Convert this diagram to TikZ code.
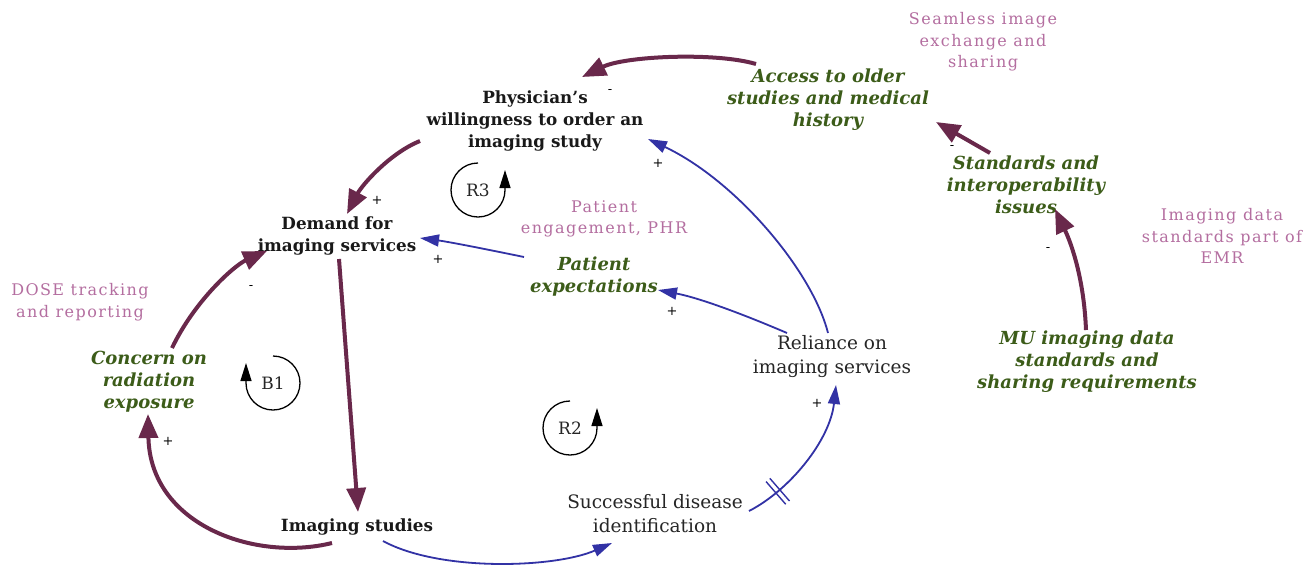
\documentclass[tikz,border=0pt]{standalone}
\usepackage{fontspec}
\setmainfont{DejaVu Serif}
\newfontfamily\pinkfont[LetterSpace=9]{DejaVu Serif}
\usetikzlibrary{arrows.meta,calc,decorations.markings}
\definecolor{maroon}{RGB}{105,40,75}
\definecolor{cldblue}{RGB}{50,50,165}
\definecolor{cldgreen}{RGB}{60,92,25}
\definecolor{cldpink}{RGB}{180,110,160}
\tikzset{
  varbold/.style={align=center,inner sep=0pt,font=\fontsize{16.8}{22}\selectfont\bfseries,text=black!90},
  varplain/.style={align=center,inner sep=0pt,font=\fontsize{18.5}{24}\selectfont,text=black!85},
  vargreen/.style={align=center,inner sep=0pt,font=\fontsize{18}{22}\selectfont\bfseries\itshape,text=cldgreen},
  varpink/.style={align=center,inner sep=0pt,font=\fontsize{16}{21.5}\selectfont\pinkfont,text=cldpink},
  thick link/.style={draw=maroon,line width=4pt,-{Triangle[length=24pt,width=19pt]}},
  thin link/.style={draw=cldblue,line width=1.8pt,-{Triangle[length=19pt,width=12pt]}},
  polarity/.style={inner sep=0pt,font=\fontsize{13}{13}\selectfont,text=black},
  looplabel/.style={inner sep=0pt,font=\fontsize{17}{17}\selectfont,text=black!85},
  loopcircle/.style={draw=black,line width=1.3pt,-{Triangle[length=18pt,width=11pt]}}
}
\begin{document}
\begin{tikzpicture}[x=1pt,y=-1pt]
\useasboundingbox (0,0) rectangle (1309,568);
\fill[white] (0,0) rectangle (1309,568);

% variables
\node[varbold] (phys) at (535,121) {Physician\char39 s\\willingness to order an\\imaging study};
\node[varbold] (dem) at (337,236) {Demand for\\imaging services};
\node[vargreen] (conc) at (149,382) {Concern on\\radiation\\exposure};
\node[varbold] (img) at (357,527) {Imaging studies};
\node[varplain] (succ) at (655,514) {Successful disease\\identification};
\node[varplain] (rel) at (832,357) {Reliance on\\imaging services};
\node[vargreen] (pexp) at (594,277) {Patient\\expectations};
\node[varpink] (peng) at (604,219) {Patient\\engagement, PHR};
\node[varpink] (dose) at (80,302) {DOSE tracking\\and reporting};
\node[vargreen] (acc) at (828,100) {Access to older\\studies and medical\\history};
\node[varpink] (seam) at (983,42) {Seamless image\\exchange and\\sharing};
\node[vargreen] (std) at (1026,185) {Standards and\\interoperability\\issues};
\node[varpink] (emr) at (1222,236) {Imaging data\\standards part of\\EMR};
\node[vargreen] (mu) at (1087,362) {MU imaging data\\standards and\\sharing requirements};

% maroon links
\draw[thick link] ($(acc)+(-72,-36)$) .. controls (715,52) and (625,56) .. ($(phys)+(47,-44)$);
\node[polarity] (p1) at (610,92) {-};
\draw[thick link] ($(std)+(-36,-32)$) -- ($(acc)+(108,22)$);
\node[polarity] (p2) at (952,148) {-};
\draw[thick link] ($(mu)+(-1,-32)$) .. controls (1084,280) and (1072,245) .. ($(std)+(29,24)$);
\node[polarity] (p3) at (1048,250) {-};
\draw[thick link] ($(phys)+(-115,20)$) .. controls (390,153) and (362,185) .. ($(dem)+(10,-22)$);
\node[polarity] (p4) at (377,200) {+};
\draw[thick link] ($(dem)+(2,23)$) -- ($(img)+(1,-15)$);
\draw[thick link] ($(img)+(-25,16)$) .. controls (255,562) and (150,525) .. ($(conc)+(-1,32)$);
\node[polarity] (p5) at (168,441) {+};
\draw[thick link] ($(conc)+(23,-34)$) .. controls (195,300) and (235,265) .. ($(dem)+(-70,15)$);
\node[polarity] (p6) at (251,288) {-};

% blue links
\draw[thin link] ($(img)+(26,14)$) .. controls (440,572) and (555,568) .. ($(succ)+(-43,29)$);
\draw[thin link,postaction={decorate,decoration={markings,mark=at position 0.22 with {\draw[-,cldblue,line width=1.4pt] (-2.5,-15)--(-2.5,15) (2.5,-15)--(2.5,15);}}}] ($(succ)+(94,-3)$) .. controls (790,490) and (830,440) .. ($(rel)+(4,28)$);
\node[polarity] (p7) at (817,403) {+};
\draw[thin link] ($(rel)+(-4,-24)$) .. controls (812,270) and (735,180) .. ($(phys)+(113,18)$);
\node[polarity] (p8) at (658,163) {+};
\draw[thin link] ($(rel)+(-45,-24)$) .. controls (745,315) and (700,298) .. ($(pexp)+(64,13)$);
\node[polarity] (p9) at (672,311) {+};
\draw[thin link] ($(pexp)+(-70,-20)$) .. controls (490,250) and (450,242) .. ($(dem)+(83,2)$);
\node[polarity] (p10) at (438,259) {+};

% loop markers
\node[looplabel] (r3) at (478,190) {R3};
\draw[loopcircle] ($(r3)+(-90:27)$) arc[start angle=-90,end angle=-360,radius=27] -- ++(0,-20);
\node[looplabel] (b1) at (273,383) {B1};
\draw[loopcircle] ($(b1)+(-90:27)$) arc[start angle=-90,end angle=180,radius=27] -- ++(0,-20);
\node[looplabel] (r2) at (570,428) {R2};
\draw[loopcircle] ($(r2)+(-90:27)$) arc[start angle=-90,end angle=-360,radius=27] -- ++(0,-20);
\end{tikzpicture}
\end{document}
